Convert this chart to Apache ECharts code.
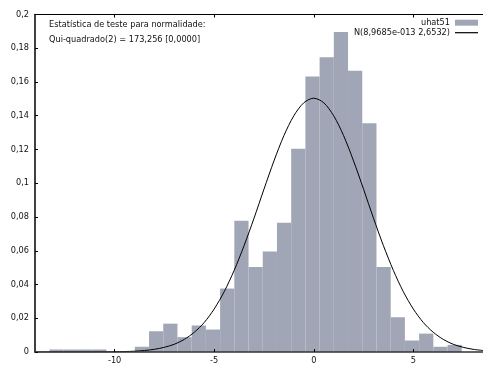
<!DOCTYPE html>
<html><head><meta charset="utf-8">
<script src="https://cdn.jsdelivr.net/npm/echarts@6/dist/echarts.min.js"></script>
<style>html,body{margin:0;padding:0;background:#fff}#c{width:483px;height:365px}</style>
</head><body><div id="c"></div>
<script>
// Histogram (density) of uhat51
const binStart = -13.27;
const binWidth = 0.7139;
const binHeights = [0.0015,0.0015,0.0015,0.0015,0,0,0.0031,0.0123,0.0168,0.0088,0.0157,0.0133,0.0376,0.0778,0.0504,0.0595,0.0766,0.1204,0.1632,0.1747,0.1896,0.1666,0.1356,0.0503,0.0206,0.0068,0.0109,0.0031,0.0042];
// Normal curve samples
const normX = [-14,-13.5,-13,-12.5,-12,-11.5,-11,-10.5,-10,-9.5,-9,-8.5,-8,-7.5,-7,-6.5,-6,-5.5,-5,-4.5,-4,-3.5,-3,-2.5,-2,-1.5,-1,-0.5,0,0.5,1,1.5,2,2.5,3,3.5,4,4.5,5,5.5,6,6.5,7,7.5,8,8.5];
const normY = [0,0,0,0,0.00001,0.00001,0.00003,0.00006,0.00012,0.00025,0.00048,0.00089,0.0016,0.0028,0.0046,0.0075,0.0117,0.0175,0.0255,0.0357,0.0483,0.0630,0.0793,0.0965,0.1132,0.1282,0.1400,0.1477,0.1504,0.1477,0.1400,0.1282,0.1132,0.0965,0.0793,0.0630,0.0483,0.0357,0.0255,0.0175,0.0117,0.0075,0.0046,0.0028,0.0016,0.0009];
const xTicks = [-10,-5,0,5];
const seriesNames = ['uhat51','N(8,9685e-013 2,6532)'];
const statLines = ['Estatística de teste para normalidade:','Qui-quadrado(2) = 173,256 [0,0000]'];

const FONT = 'DejaVu Sans';
const FS = 8.2;
const histData = binHeights.map((h,i)=>[binStart+i*binWidth, binStart+(i+1)*binWidth, h]);
const lineData = normX.map((x,i)=>[x, normY[i]]);

const chart = echarts.init(document.getElementById('c'), null, {renderer:'canvas'});
chart.setOption({
  animation:false,
  backgroundColor:'#fff',
  textStyle:{fontFamily:FONT},
  title:{text:statLines.join('\n'), left:49, top:17.8, padding:0,
    textStyle:{fontSize:FS, fontWeight:'normal', fontFamily:FONT, color:'#111', lineHeight:14.5}},
  legend:[
    {data:[{name:seriesNames[0], icon:'rect'}], right:5, top:17.7, padding:0, align:'right',
     itemWidth:23, itemHeight:6, selectedMode:false,
     textStyle:{fontSize:FS, fontFamily:FONT, color:'#111', lineHeight:10}},
    {data:[{name:seriesNames[1], icon:'rect', itemStyle:{color:'#000'}}], right:5, top:27.7, padding:0, align:'right',
     itemWidth:23, itemHeight:1.2, selectedMode:false,
     textStyle:{fontSize:FS, fontFamily:FONT, color:'#111', lineHeight:10}}
  ],
  grid:{left:35, right:0, top:14.5, bottom:12.5, containLabel:false},
  xAxis:[
    {type:'value', min:-14, max:8.5, position:'bottom', z:10,
     axisLine:{show:true, onZero:false, lineStyle:{color:'#333', width:1.5}},
     axisTick:{show:true, inside:true, length:3, customValues:xTicks, lineStyle:{color:'#000'}},
     axisLabel:{show:true, customValues:xTicks, margin:5, fontSize:FS, fontFamily:FONT, color:'#111',
       formatter:v=>String(v)},
     splitLine:{show:false}},
    {type:'value', min:-14, max:8.5, position:'top', z:10,
     axisLine:{show:true, onZero:false, lineStyle:{color:'#000', width:1}},
     axisTick:{show:true, inside:true, length:3, customValues:xTicks, lineStyle:{color:'#000'}},
     axisLabel:{show:false}, splitLine:{show:false}}
  ],
  yAxis:{type:'value', min:0, max:0.2, interval:0.02, z:10,
    axisLine:{show:true, onZero:false, lineStyle:{color:'#000', width:1.5}},
    axisTick:{show:true, inside:true, length:3, lineStyle:{color:'#000'}},
    axisLabel:{margin:6, fontSize:FS, fontFamily:FONT, color:'#111',
      formatter:v=>String(parseFloat(v.toFixed(4))).replace('.',',')},
    splitLine:{show:false}},
  series:[
    {name:seriesNames[0], type:'custom', xAxisIndex:0, yAxisIndex:0,
     itemStyle:{color:'#a0a6b6'},
     encode:{x:[0,1], y:2},
     data:histData,
     renderItem:function(params, api){
       const p0 = api.coord([api.value(0), api.value(2)]);
       const p1 = api.coord([api.value(1), 0]);
       return {type:'rect', shape:{x:p0[0], y:p0[1], width:p1[0]-p0[0], height:p1[1]-p0[1]},
         style:{fill:api.visual('color')}};
     }},
    {name:seriesNames[1], type:'line', xAxisIndex:0, yAxisIndex:0, data:lineData,
     symbol:'none', showSymbol:false, smooth:0.3, z:5,
     lineStyle:{color:'#000', width:1}, itemStyle:{color:'#000'}}
  ]
});
</script></body></html>
